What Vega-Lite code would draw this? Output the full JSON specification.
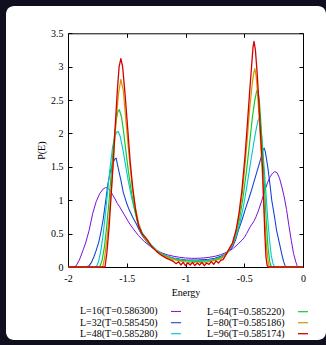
{
"$schema": "https://vega.github.io/schema/vega-lite/v6.json",
"width": 320, "height": 334,
"autosize": "none",
"padding": {"left": 6, "top": 6, "right": 0, "bottom": 5},
"background": "#0f0f1e",
"config": {
  "view": {"fill": "white", "cornerRadius": 8, "stroke": null},
  "font": "Liberation Serif",
  "axis": {"labelFont": "Liberation Serif", "labelFontSize": 10, "labelColor": "black", "titleFont": "Liberation Serif", "titleFontSize": 10, "titleFontWeight": "normal", "titleColor": "black", "domainColor": "black", "tickColor": "black", "grid": false, "tickSize": -4, "labelFlush": false}
},
"datasets": {
 "curves": [
  {"s":"L=16(T=0.586300)","e":-2,"p":0},{"s":"L=16(T=0.586300)","e":-1.95,"p":0},{"s":"L=16(T=0.586300)","e":-1.93,"p":0.02},{"s":"L=16(T=0.586300)","e":-1.9,"p":0.12},{"s":"L=16(T=0.586300)","e":-1.87,"p":0.26},{"s":"L=16(T=0.586300)","e":-1.85,"p":0.36},{"s":"L=16(T=0.586300)","e":-1.82,"p":0.55},{"s":"L=16(T=0.586300)","e":-1.79,"p":0.8},{"s":"L=16(T=0.586300)","e":-1.76,"p":0.98},{"s":"L=16(T=0.586300)","e":-1.73,"p":1.1},{"s":"L=16(T=0.586300)","e":-1.7,"p":1.17},{"s":"L=16(T=0.586300)","e":-1.68,"p":1.19},{"s":"L=16(T=0.586300)","e":-1.66,"p":1.18},{"s":"L=16(T=0.586300)","e":-1.64,"p":1.14},{"s":"L=16(T=0.586300)","e":-1.62,"p":1.08},{"s":"L=16(T=0.586300)","e":-1.6,"p":1.02},{"s":"L=16(T=0.586300)","e":-1.58,"p":0.95},{"s":"L=16(T=0.586300)","e":-1.56,"p":0.9},{"s":"L=16(T=0.586300)","e":-1.52,"p":0.78},{"s":"L=16(T=0.586300)","e":-1.48,"p":0.66},{"s":"L=16(T=0.586300)","e":-1.44,"p":0.56},{"s":"L=16(T=0.586300)","e":-1.4,"p":0.47},{"s":"L=16(T=0.586300)","e":-1.35,"p":0.38},{"s":"L=16(T=0.586300)","e":-1.3,"p":0.31},{"s":"L=16(T=0.586300)","e":-1.25,"p":0.25},{"s":"L=16(T=0.586300)","e":-1.2,"p":0.21},{"s":"L=16(T=0.586300)","e":-1.15,"p":0.18},{"s":"L=16(T=0.586300)","e":-1.1,"p":0.16},{"s":"L=16(T=0.586300)","e":-1.05,"p":0.145},{"s":"L=16(T=0.586300)","e":-1,"p":0.135},{"s":"L=16(T=0.586300)","e":-0.95,"p":0.13},{"s":"L=16(T=0.586300)","e":-0.9,"p":0.13},{"s":"L=16(T=0.586300)","e":-0.85,"p":0.135},{"s":"L=16(T=0.586300)","e":-0.8,"p":0.145},{"s":"L=16(T=0.586300)","e":-0.75,"p":0.16},{"s":"L=16(T=0.586300)","e":-0.7,"p":0.185},{"s":"L=16(T=0.586300)","e":-0.65,"p":0.22},{"s":"L=16(T=0.586300)","e":-0.6,"p":0.27},{"s":"L=16(T=0.586300)","e":-0.58,"p":0.3},{"s":"L=16(T=0.586300)","e":-0.55,"p":0.35},{"s":"L=16(T=0.586300)","e":-0.52,"p":0.4},{"s":"L=16(T=0.586300)","e":-0.5,"p":0.44},{"s":"L=16(T=0.586300)","e":-0.48,"p":0.5},{"s":"L=16(T=0.586300)","e":-0.45,"p":0.6},{"s":"L=16(T=0.586300)","e":-0.42,"p":0.68},{"s":"L=16(T=0.586300)","e":-0.4,"p":0.75},{"s":"L=16(T=0.586300)","e":-0.38,"p":0.84},{"s":"L=16(T=0.586300)","e":-0.35,"p":1.0},{"s":"L=16(T=0.586300)","e":-0.32,"p":1.17},{"s":"L=16(T=0.586300)","e":-0.3,"p":1.27},{"s":"L=16(T=0.586300)","e":-0.28,"p":1.35},{"s":"L=16(T=0.586300)","e":-0.26,"p":1.4},{"s":"L=16(T=0.586300)","e":-0.24,"p":1.43},{"s":"L=16(T=0.586300)","e":-0.22,"p":1.41},{"s":"L=16(T=0.586300)","e":-0.2,"p":1.33},{"s":"L=16(T=0.586300)","e":-0.18,"p":1.2},{"s":"L=16(T=0.586300)","e":-0.16,"p":1.05},{"s":"L=16(T=0.586300)","e":-0.14,"p":0.86},{"s":"L=16(T=0.586300)","e":-0.12,"p":0.62},{"s":"L=16(T=0.586300)","e":-0.1,"p":0.4},{"s":"L=16(T=0.586300)","e":-0.08,"p":0.2},{"s":"L=16(T=0.586300)","e":-0.06,"p":0.07},{"s":"L=16(T=0.586300)","e":-0.05,"p":0.02},{"s":"L=16(T=0.586300)","e":-0.04,"p":0},{"s":"L=16(T=0.586300)","e":0,"p":0},
  {"s":"L=32(T=0.585450)","e":-2,"p":0},{"s":"L=32(T=0.585450)","e":-1.85,"p":0},{"s":"L=32(T=0.585450)","e":-1.82,"p":0.02},{"s":"L=32(T=0.585450)","e":-1.8,"p":0.07},{"s":"L=32(T=0.585450)","e":-1.78,"p":0.15},{"s":"L=32(T=0.585450)","e":-1.76,"p":0.25},{"s":"L=32(T=0.585450)","e":-1.74,"p":0.36},{"s":"L=32(T=0.585450)","e":-1.72,"p":0.52},{"s":"L=32(T=0.585450)","e":-1.7,"p":0.72},{"s":"L=32(T=0.585450)","e":-1.68,"p":0.98},{"s":"L=32(T=0.585450)","e":-1.66,"p":1.25},{"s":"L=32(T=0.585450)","e":-1.64,"p":1.43},{"s":"L=32(T=0.585450)","e":-1.62,"p":1.55},{"s":"L=32(T=0.585450)","e":-1.6,"p":1.62},{"s":"L=32(T=0.585450)","e":-1.59,"p":1.63},{"s":"L=32(T=0.585450)","e":-1.575,"p":1.5},{"s":"L=32(T=0.585450)","e":-1.55,"p":1.3},{"s":"L=32(T=0.585450)","e":-1.53,"p":1.12},{"s":"L=32(T=0.585450)","e":-1.5,"p":0.95},{"s":"L=32(T=0.585450)","e":-1.48,"p":0.86},{"s":"L=32(T=0.585450)","e":-1.45,"p":0.75},{"s":"L=32(T=0.585450)","e":-1.42,"p":0.65},{"s":"L=32(T=0.585450)","e":-1.39,"p":0.54},{"s":"L=32(T=0.585450)","e":-1.36,"p":0.45},{"s":"L=32(T=0.585450)","e":-1.32,"p":0.36},{"s":"L=32(T=0.585450)","e":-1.28,"p":0.29},{"s":"L=32(T=0.585450)","e":-1.24,"p":0.23},{"s":"L=32(T=0.585450)","e":-1.2,"p":0.19},{"s":"L=32(T=0.585450)","e":-1.15,"p":0.155},{"s":"L=32(T=0.585450)","e":-1.1,"p":0.135},{"s":"L=32(T=0.585450)","e":-1.05,"p":0.12},{"s":"L=32(T=0.585450)","e":-1,"p":0.11},{"s":"L=32(T=0.585450)","e":-0.9,"p":0.105},{"s":"L=32(T=0.585450)","e":-0.8,"p":0.115},{"s":"L=32(T=0.585450)","e":-0.75,"p":0.13},{"s":"L=32(T=0.585450)","e":-0.7,"p":0.16},{"s":"L=32(T=0.585450)","e":-0.65,"p":0.2},{"s":"L=32(T=0.585450)","e":-0.6,"p":0.3},{"s":"L=32(T=0.585450)","e":-0.575,"p":0.4},{"s":"L=32(T=0.585450)","e":-0.55,"p":0.55},{"s":"L=32(T=0.585450)","e":-0.52,"p":0.7},{"s":"L=32(T=0.585450)","e":-0.49,"p":0.87},{"s":"L=32(T=0.585450)","e":-0.46,"p":1.03},{"s":"L=32(T=0.585450)","e":-0.44,"p":1.14},{"s":"L=32(T=0.585450)","e":-0.41,"p":1.32},{"s":"L=32(T=0.585450)","e":-0.38,"p":1.5},{"s":"L=32(T=0.585450)","e":-0.36,"p":1.62},{"s":"L=32(T=0.585450)","e":-0.34,"p":1.76},{"s":"L=32(T=0.585450)","e":-0.33,"p":1.78},{"s":"L=32(T=0.585450)","e":-0.32,"p":1.72},{"s":"L=32(T=0.585450)","e":-0.3,"p":1.5},{"s":"L=32(T=0.585450)","e":-0.28,"p":1.22},{"s":"L=32(T=0.585450)","e":-0.266,"p":1.0},{"s":"L=32(T=0.585450)","e":-0.245,"p":0.78},{"s":"L=32(T=0.585450)","e":-0.225,"p":0.55},{"s":"L=32(T=0.585450)","e":-0.2,"p":0.35},{"s":"L=32(T=0.585450)","e":-0.18,"p":0.19},{"s":"L=32(T=0.585450)","e":-0.165,"p":0.08},{"s":"L=32(T=0.585450)","e":-0.15,"p":0.01},{"s":"L=32(T=0.585450)","e":-0.14,"p":0},{"s":"L=32(T=0.585450)","e":0,"p":0},
  {"s":"L=48(T=0.585280)","e":-2,"p":0},{"s":"L=48(T=0.585280)","e":-1.76,"p":0},{"s":"L=48(T=0.585280)","e":-1.74,"p":0.08},{"s":"L=48(T=0.585280)","e":-1.72,"p":0.25},{"s":"L=48(T=0.585280)","e":-1.7,"p":0.5},{"s":"L=48(T=0.585280)","e":-1.68,"p":0.82},{"s":"L=48(T=0.585280)","e":-1.66,"p":1.18},{"s":"L=48(T=0.585280)","e":-1.64,"p":1.52},{"s":"L=48(T=0.585280)","e":-1.62,"p":1.8},{"s":"L=48(T=0.585280)","e":-1.6,"p":1.96},{"s":"L=48(T=0.585280)","e":-1.585,"p":2.02},{"s":"L=48(T=0.585280)","e":-1.572,"p":2.03},{"s":"L=48(T=0.585280)","e":-1.555,"p":1.95},{"s":"L=48(T=0.585280)","e":-1.535,"p":1.78},{"s":"L=48(T=0.585280)","e":-1.51,"p":1.52},{"s":"L=48(T=0.585280)","e":-1.485,"p":1.27},{"s":"L=48(T=0.585280)","e":-1.46,"p":1.05},{"s":"L=48(T=0.585280)","e":-1.43,"p":0.83},{"s":"L=48(T=0.585280)","e":-1.4,"p":0.65},{"s":"L=48(T=0.585280)","e":-1.37,"p":0.52},{"s":"L=48(T=0.585280)","e":-1.33,"p":0.41},{"s":"L=48(T=0.585280)","e":-1.29,"p":0.33},{"s":"L=48(T=0.585280)","e":-1.25,"p":0.26},{"s":"L=48(T=0.585280)","e":-1.2,"p":0.2},{"s":"L=48(T=0.585280)","e":-1.15,"p":0.16},{"s":"L=48(T=0.585280)","e":-1.1,"p":0.13},{"s":"L=48(T=0.585280)","e":-1.05,"p":0.11},{"s":"L=48(T=0.585280)","e":-1,"p":0.1},{"s":"L=48(T=0.585280)","e":-0.9,"p":0.095},{"s":"L=48(T=0.585280)","e":-0.8,"p":0.1},{"s":"L=48(T=0.585280)","e":-0.75,"p":0.12},{"s":"L=48(T=0.585280)","e":-0.7,"p":0.145},{"s":"L=48(T=0.585280)","e":-0.66,"p":0.19},{"s":"L=48(T=0.585280)","e":-0.63,"p":0.25},{"s":"L=48(T=0.585280)","e":-0.6,"p":0.33},{"s":"L=48(T=0.585280)","e":-0.57,"p":0.46},{"s":"L=48(T=0.585280)","e":-0.54,"p":0.64},{"s":"L=48(T=0.585280)","e":-0.51,"p":0.88},{"s":"L=48(T=0.585280)","e":-0.48,"p":1.18},{"s":"L=48(T=0.585280)","e":-0.45,"p":1.52},{"s":"L=48(T=0.585280)","e":-0.42,"p":1.85},{"s":"L=48(T=0.585280)","e":-0.4,"p":2.05},{"s":"L=48(T=0.585280)","e":-0.385,"p":2.18},{"s":"L=48(T=0.585280)","e":-0.374,"p":2.23},{"s":"L=48(T=0.585280)","e":-0.36,"p":2.1},{"s":"L=48(T=0.585280)","e":-0.345,"p":1.82},{"s":"L=48(T=0.585280)","e":-0.33,"p":1.48},{"s":"L=48(T=0.585280)","e":-0.315,"p":1.1},{"s":"L=48(T=0.585280)","e":-0.3,"p":0.72},{"s":"L=48(T=0.585280)","e":-0.285,"p":0.4},{"s":"L=48(T=0.585280)","e":-0.27,"p":0.17},{"s":"L=48(T=0.585280)","e":-0.255,"p":0.05},{"s":"L=48(T=0.585280)","e":-0.24,"p":0},{"s":"L=48(T=0.585280)","e":0,"p":0},
  {"s":"L=64(T=0.585220)","e":-2,"p":0},{"s":"L=64(T=0.585220)","e":-1.73,"p":0},{"s":"L=64(T=0.585220)","e":-1.71,"p":0.1},{"s":"L=64(T=0.585220)","e":-1.69,"p":0.3},{"s":"L=64(T=0.585220)","e":-1.67,"p":0.62},{"s":"L=64(T=0.585220)","e":-1.65,"p":1.0},{"s":"L=64(T=0.585220)","e":-1.63,"p":1.45},{"s":"L=64(T=0.585220)","e":-1.61,"p":1.88},{"s":"L=64(T=0.585220)","e":-1.59,"p":2.2},{"s":"L=64(T=0.585220)","e":-1.575,"p":2.33},{"s":"L=64(T=0.585220)","e":-1.563,"p":2.355},{"s":"L=64(T=0.585220)","e":-1.545,"p":2.25},{"s":"L=64(T=0.585220)","e":-1.525,"p":2.0},{"s":"L=64(T=0.585220)","e":-1.505,"p":1.7},{"s":"L=64(T=0.585220)","e":-1.485,"p":1.42},{"s":"L=64(T=0.585220)","e":-1.46,"p":1.12},{"s":"L=64(T=0.585220)","e":-1.435,"p":0.88},{"s":"L=64(T=0.585220)","e":-1.41,"p":0.68},{"s":"L=64(T=0.585220)","e":-1.38,"p":0.52},{"s":"L=64(T=0.585220)","e":-1.34,"p":0.41},{"s":"L=64(T=0.585220)","e":-1.3,"p":0.32},{"s":"L=64(T=0.585220)","e":-1.25,"p":0.25},{"s":"L=64(T=0.585220)","e":-1.2,"p":0.19},{"s":"L=64(T=0.585220)","e":-1.15,"p":0.15},{"s":"L=64(T=0.585220)","e":-1.1,"p":0.12},{"s":"L=64(T=0.585220)","e":-1.05,"p":0.1},{"s":"L=64(T=0.585220)","e":-1,"p":0.09},{"s":"L=64(T=0.585220)","e":-0.9,"p":0.085},{"s":"L=64(T=0.585220)","e":-0.8,"p":0.09},{"s":"L=64(T=0.585220)","e":-0.75,"p":0.11},{"s":"L=64(T=0.585220)","e":-0.7,"p":0.135},{"s":"L=64(T=0.585220)","e":-0.66,"p":0.19},{"s":"L=64(T=0.585220)","e":-0.63,"p":0.26},{"s":"L=64(T=0.585220)","e":-0.6,"p":0.35},{"s":"L=64(T=0.585220)","e":-0.57,"p":0.5},{"s":"L=64(T=0.585220)","e":-0.54,"p":0.72},{"s":"L=64(T=0.585220)","e":-0.51,"p":1.05},{"s":"L=64(T=0.585220)","e":-0.48,"p":1.45},{"s":"L=64(T=0.585220)","e":-0.455,"p":1.85},{"s":"L=64(T=0.585220)","e":-0.43,"p":2.25},{"s":"L=64(T=0.585220)","e":-0.41,"p":2.5},{"s":"L=64(T=0.585220)","e":-0.395,"p":2.63},{"s":"L=64(T=0.585220)","e":-0.385,"p":2.655},{"s":"L=64(T=0.585220)","e":-0.372,"p":2.5},{"s":"L=64(T=0.585220)","e":-0.358,"p":2.15},{"s":"L=64(T=0.585220)","e":-0.343,"p":1.7},{"s":"L=64(T=0.585220)","e":-0.328,"p":1.2},{"s":"L=64(T=0.585220)","e":-0.313,"p":0.7},{"s":"L=64(T=0.585220)","e":-0.298,"p":0.3},{"s":"L=64(T=0.585220)","e":-0.283,"p":0.08},{"s":"L=64(T=0.585220)","e":-0.27,"p":0},{"s":"L=64(T=0.585220)","e":0,"p":0},
  {"s":"L=80(T=0.585186)","e":-2,"p":0},{"s":"L=80(T=0.585186)","e":-1.705,"p":0},{"s":"L=80(T=0.585186)","e":-1.69,"p":0.12},{"s":"L=80(T=0.585186)","e":-1.67,"p":0.4},{"s":"L=80(T=0.585186)","e":-1.65,"p":0.75},{"s":"L=80(T=0.585186)","e":-1.63,"p":1.2},{"s":"L=80(T=0.585186)","e":-1.61,"p":1.7},{"s":"L=80(T=0.585186)","e":-1.59,"p":2.2},{"s":"L=80(T=0.585186)","e":-1.57,"p":2.6},{"s":"L=80(T=0.585186)","e":-1.55,"p":2.81},{"s":"L=80(T=0.585186)","e":-1.53,"p":2.65},{"s":"L=80(T=0.585186)","e":-1.51,"p":2.25},{"s":"L=80(T=0.585186)","e":-1.49,"p":1.85},{"s":"L=80(T=0.585186)","e":-1.47,"p":1.48},{"s":"L=80(T=0.585186)","e":-1.45,"p":1.15},{"s":"L=80(T=0.585186)","e":-1.425,"p":0.88},{"s":"L=80(T=0.585186)","e":-1.4,"p":0.66},{"s":"L=80(T=0.585186)","e":-1.37,"p":0.5},{"s":"L=80(T=0.585186)","e":-1.33,"p":0.4},{"s":"L=80(T=0.585186)","e":-1.29,"p":0.31},{"s":"L=80(T=0.585186)","e":-1.245,"p":0.24},{"s":"L=80(T=0.585186)","e":-1.2,"p":0.18},{"s":"L=80(T=0.585186)","e":-1.15,"p":0.14},{"s":"L=80(T=0.585186)","e":-1.1,"p":0.11},{"s":"L=80(T=0.585186)","e":-1.05,"p":0.09},{"s":"L=80(T=0.585186)","e":-1,"p":0.075},{"s":"L=80(T=0.585186)","e":-0.95,"p":0.06},{"s":"L=80(T=0.585186)","e":-0.9,"p":0.075},{"s":"L=80(T=0.585186)","e":-0.85,"p":0.06},{"s":"L=80(T=0.585186)","e":-0.8,"p":0.08},{"s":"L=80(T=0.585186)","e":-0.75,"p":0.1},{"s":"L=80(T=0.585186)","e":-0.7,"p":0.12},{"s":"L=80(T=0.585186)","e":-0.66,"p":0.18},{"s":"L=80(T=0.585186)","e":-0.63,"p":0.25},{"s":"L=80(T=0.585186)","e":-0.6,"p":0.35},{"s":"L=80(T=0.585186)","e":-0.57,"p":0.52},{"s":"L=80(T=0.585186)","e":-0.545,"p":0.75},{"s":"L=80(T=0.585186)","e":-0.52,"p":1.05},{"s":"L=80(T=0.585186)","e":-0.495,"p":1.5},{"s":"L=80(T=0.585186)","e":-0.475,"p":1.9},{"s":"L=80(T=0.585186)","e":-0.455,"p":2.35},{"s":"L=80(T=0.585186)","e":-0.435,"p":2.7},{"s":"L=80(T=0.585186)","e":-0.42,"p":2.9},{"s":"L=80(T=0.585186)","e":-0.41,"p":2.97},{"s":"L=80(T=0.585186)","e":-0.398,"p":2.85},{"s":"L=80(T=0.585186)","e":-0.385,"p":2.55},{"s":"L=80(T=0.585186)","e":-0.37,"p":2.15},{"s":"L=80(T=0.585186)","e":-0.355,"p":1.7},{"s":"L=80(T=0.585186)","e":-0.34,"p":1.2},{"s":"L=80(T=0.585186)","e":-0.325,"p":0.7},{"s":"L=80(T=0.585186)","e":-0.31,"p":0.3},{"s":"L=80(T=0.585186)","e":-0.295,"p":0.06},{"s":"L=80(T=0.585186)","e":-0.285,"p":0},{"s":"L=80(T=0.585186)","e":0,"p":0},
  {"s":"L=96(T=0.585174)","e":-2,"p":0},{"s":"L=96(T=0.585174)","e":-1.685,"p":0},{"s":"L=96(T=0.585174)","e":-1.67,"p":0.2},{"s":"L=96(T=0.585174)","e":-1.65,"p":0.6},{"s":"L=96(T=0.585174)","e":-1.63,"p":1.15},{"s":"L=96(T=0.585174)","e":-1.614,"p":1.6},{"s":"L=96(T=0.585174)","e":-1.6,"p":2.05},{"s":"L=96(T=0.585174)","e":-1.58,"p":2.65},{"s":"L=96(T=0.585174)","e":-1.565,"p":3.0},{"s":"L=96(T=0.585174)","e":-1.55,"p":3.12},{"s":"L=96(T=0.585174)","e":-1.535,"p":3.0},{"s":"L=96(T=0.585174)","e":-1.515,"p":2.6},{"s":"L=96(T=0.585174)","e":-1.495,"p":2.15},{"s":"L=96(T=0.585174)","e":-1.472,"p":1.6},{"s":"L=96(T=0.585174)","e":-1.45,"p":1.2},{"s":"L=96(T=0.585174)","e":-1.425,"p":0.85},{"s":"L=96(T=0.585174)","e":-1.4,"p":0.62},{"s":"L=96(T=0.585174)","e":-1.37,"p":0.5},{"s":"L=96(T=0.585174)","e":-1.33,"p":0.42},{"s":"L=96(T=0.585174)","e":-1.29,"p":0.31},{"s":"L=96(T=0.585174)","e":-1.245,"p":0.23},{"s":"L=96(T=0.585174)","e":-1.2,"p":0.17},{"s":"L=96(T=0.585174)","e":-1.16,"p":0.13},{"s":"L=96(T=0.585174)","e":-1.12,"p":0.1},{"s":"L=96(T=0.585174)","e":-1.1,"p":0.08},{"s":"L=96(T=0.585174)","e":-1.08,"p":0.05},{"s":"L=96(T=0.585174)","e":-1.06,"p":0.08},{"s":"L=96(T=0.585174)","e":-1.04,"p":0.03},{"s":"L=96(T=0.585174)","e":-1.02,"p":0.07},{"s":"L=96(T=0.585174)","e":-1,"p":0.02},{"s":"L=96(T=0.585174)","e":-0.98,"p":0.06},{"s":"L=96(T=0.585174)","e":-0.96,"p":0.03},{"s":"L=96(T=0.585174)","e":-0.94,"p":0.07},{"s":"L=96(T=0.585174)","e":-0.92,"p":0.02},{"s":"L=96(T=0.585174)","e":-0.9,"p":0.06},{"s":"L=96(T=0.585174)","e":-0.88,"p":0.03},{"s":"L=96(T=0.585174)","e":-0.86,"p":0.07},{"s":"L=96(T=0.585174)","e":-0.84,"p":0.02},{"s":"L=96(T=0.585174)","e":-0.82,"p":0.06},{"s":"L=96(T=0.585174)","e":-0.8,"p":0.04},{"s":"L=96(T=0.585174)","e":-0.78,"p":0.08},{"s":"L=96(T=0.585174)","e":-0.76,"p":0.04},{"s":"L=96(T=0.585174)","e":-0.74,"p":0.09},{"s":"L=96(T=0.585174)","e":-0.72,"p":0.06},{"s":"L=96(T=0.585174)","e":-0.7,"p":0.1},{"s":"L=96(T=0.585174)","e":-0.68,"p":0.11},{"s":"L=96(T=0.585174)","e":-0.66,"p":0.17},{"s":"L=96(T=0.585174)","e":-0.636,"p":0.25},{"s":"L=96(T=0.585174)","e":-0.6,"p":0.36},{"s":"L=96(T=0.585174)","e":-0.57,"p":0.55},{"s":"L=96(T=0.585174)","e":-0.545,"p":0.8},{"s":"L=96(T=0.585174)","e":-0.52,"p":1.15},{"s":"L=96(T=0.585174)","e":-0.494,"p":1.65},{"s":"L=96(T=0.585174)","e":-0.475,"p":2.1},{"s":"L=96(T=0.585174)","e":-0.455,"p":2.6},{"s":"L=96(T=0.585174)","e":-0.44,"p":2.95},{"s":"L=96(T=0.585174)","e":-0.425,"p":3.3},{"s":"L=96(T=0.585174)","e":-0.417,"p":3.38},{"s":"L=96(T=0.585174)","e":-0.405,"p":3.25},{"s":"L=96(T=0.585174)","e":-0.39,"p":2.9},{"s":"L=96(T=0.585174)","e":-0.375,"p":2.45},{"s":"L=96(T=0.585174)","e":-0.36,"p":1.95},{"s":"L=96(T=0.585174)","e":-0.345,"p":1.5},{"s":"L=96(T=0.585174)","e":-0.335,"p":1.0},{"s":"L=96(T=0.585174)","e":-0.325,"p":0.5},{"s":"L=96(T=0.585174)","e":-0.315,"p":0.15},{"s":"L=96(T=0.585174)","e":-0.305,"p":0.02},{"s":"L=96(T=0.585174)","e":-0.295,"p":0},{"s":"L=96(T=0.585174)","e":0,"p":0}
 ]
},
"data": {"name": "curves"},
"layer": [
 {
  "mark": {"type": "line", "strokeJoin": "round"},
  "encoding": {
   "x": {"field": "e", "type": "quantitative", "scale": {"domain": [-2, 0], "range": [62, 297], "nice": false, "zero": false},
         "axis": {"orient": "bottom", "offset": -73, "values": [-2, -1.5, -1, -0.5, 0], "format": "~g", "labelExpr": "replace(datum.label, '\u2212', '-')", "labelPadding": 10, "title": "Energy", "titlePadding": 4}},
   "y": {"field": "p", "type": "quantitative", "scale": {"domain": [0, 3.5], "range": [261, 27.3], "nice": false},
         "axis": {"orient": "left", "offset": -62, "values": [0, 0.5, 1, 1.5, 2, 2.5, 3, 3.5], "format": "~g", "labelPadding": 9, "title": "P(E)", "titlePadding": 4}},
   "color": {"field": "s", "type": "nominal",
     "scale": {"domain": ["L=16(T=0.586300)", "L=32(T=0.585450)", "L=48(T=0.585280)", "L=64(T=0.585220)", "L=80(T=0.585186)", "L=96(T=0.585174)"],
               "range": ["#7a10d8", "#1040d0", "#00c8d0", "#10c830", "#d09a00", "#d40000"]},
     "legend": {"orient": "none", "legendX": 74, "legendY": 299.7, "title": null, "columns": 2, "direction": "vertical", "columnPadding": 23, "rowPadding": 0, "padding": 0,
       "symbolType": "stroke", "symbolSize": 100, "symbolStrokeWidth": 1.5, "labelFont": "Liberation Serif", "labelFontSize": 10, "labelColor": "black", "labelLimit": 200,
       "encode": {"labels": {"update": {"x": {"value": 0}}}, "symbols": {"update": {"x": {"value": 96}}}}}},
   "strokeWidth": {"field": "s", "type": "nominal",
     "scale": {"domain": ["L=16(T=0.586300)", "L=32(T=0.585450)", "L=48(T=0.585280)", "L=64(T=0.585220)", "L=80(T=0.585186)", "L=96(T=0.585174)"],
               "range": [1, 1.3, 1.6, 2, 2.1, 2.6]}, "legend": null}
  }
 },
 {
  "mark": {"type": "point", "opacity": 0},
  "encoding": {
   "x": {"field": "e", "type": "quantitative", "scale": {"domain": [-2, 0], "range": [62, 297], "nice": false, "zero": false},
         "axis": {"orient": "top", "offset": -27.3, "values": [-2, -1.5, -1, -0.5, 0], "labels": false, "title": null}},
   "y": {"field": "p", "type": "quantitative", "scale": {"domain": [0, 3.5], "range": [261, 27.3], "nice": false},
         "axis": {"orient": "right", "offset": -23, "values": [0, 0.5, 1, 1.5, 2, 2.5, 3, 3.5], "labels": false, "title": null}}
  }
 }
],
"resolve": {"axis": {"x": "independent", "y": "independent"}}
}
